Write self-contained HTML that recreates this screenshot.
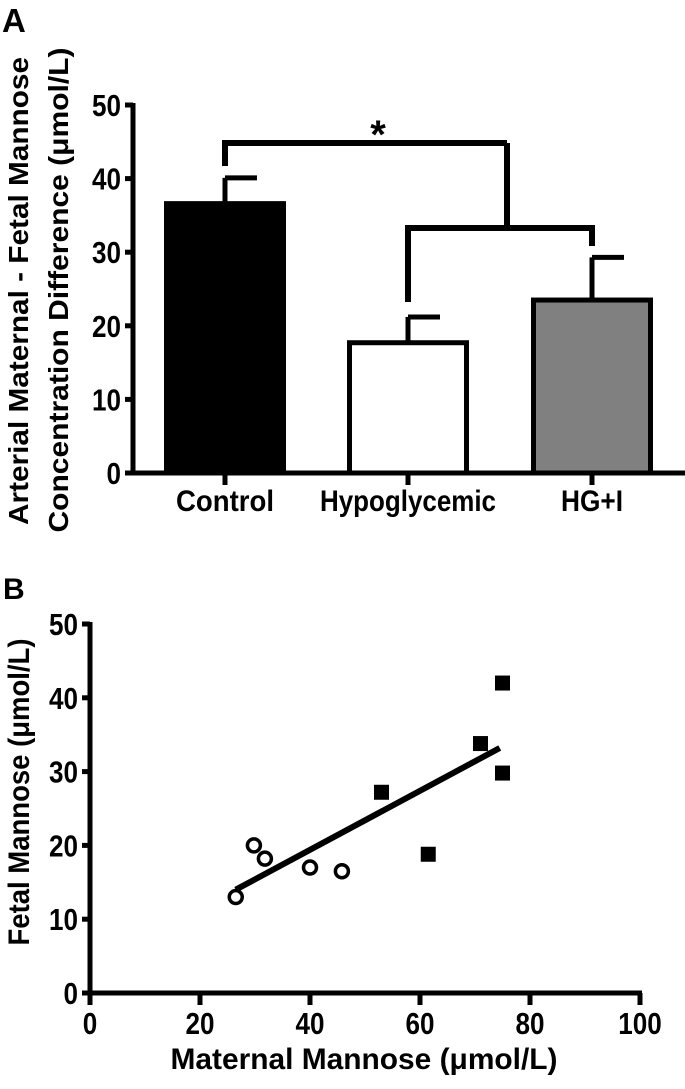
<!DOCTYPE html>
<html><head><meta charset="utf-8">
<style>
html,body{margin:0;padding:0;background:#fff;}
svg{display:block;font-family:"Liberation Sans",sans-serif;font-weight:bold;}
</style></head>
<body>
<svg id="fig" width="685" height="1089" viewBox="0 0 685 1089">
<text x="2" y="32" font-size="33">A</text>
<text x="3" y="599" font-size="30">B</text>
<g id="chartA"></g>
<g id="chartB"></g>
</svg>
<script>
const categories = ["Control","Hypoglycemic","HG+I"];
const barValues = [36.6, 17.7, 23.5];
const barErrors = [3.5, 3.5, 5.8];
const barFills = ["#000","#fff","#808080"];
const yTicksA = [0,10,20,30,40,50];

const circleX = [26.5, 29.8, 31.8, 40, 45.8];
const circleY = [13, 20, 18.2, 17, 16.5];
const squareX = [53, 61.5, 71, 75, 75];
const squareY = [27.2, 18.8, 33.8, 42, 29.8];
const fitX = [26.5, 74.5];
const fitY = [14, 33.2];
const xTicksB = [0,20,40,60,80,100];
const yTicksB = [0,10,20,30,40,50];

const NS = "http://www.w3.org/2000/svg";
function mk(tag, attrs, parent, txt){
  const e = document.createElementNS(NS, tag);
  for (const k in attrs) e.setAttribute(k, attrs[k]);
  if (txt !== undefined) e.textContent = txt;
  parent.appendChild(e);
  return e;
}
function numW(s){ return s.length * 14.5; }

// ---- Panel A ----
const A = document.getElementById('chartA');
const ax0 = 133, yA = v => 473 - v * 7.36;
const catX = [225, 408, 592];
const catW = [98, 176, 62];
const barW = 122;
let e;
e = mk('line',{x1:ax0,y1:yA(50)-2,x2:ax0,y2:yA(0)+2,stroke:'#000','stroke-width':5},A);


e = mk('line',{x1:ax0-8,y1:yA(0),x2:685,y2:yA(0),stroke:'#000','stroke-width':5},A);


yTicksA.forEach(t=>{
  mk('line',{x1:ax0-8,y1:yA(t),x2:ax0,y2:yA(t),stroke:'#000','stroke-width':5},A);
  const s = String(t);
  e = mk('text',{x:ax0-12,y:yA(t)+11,'text-anchor':'end','font-size':31,textLength:numW(s),lengthAdjust:'spacingAndGlyphs'},A,s);
  
  
});
categories.forEach((c,i)=>{
  const cx = catX[i];
  const top = yA(barValues[i]);
  const et = yA(barValues[i]+barErrors[i]);
  e = mk('line',{x1:cx,y1:et,x2:cx,y2:top,stroke:'#000','stroke-width':5},A);
  
  
  mk('line',{x1:cx,y1:et,x2:cx+32,y2:et,stroke:'#000','stroke-width':5},A);
  e = mk('rect',{x:cx-barW/2+2.5,y:top,width:barW-5,height:yA(0)-top,fill:barFills[i],stroke:'#000','stroke-width':5},A);
  
  
  mk('line',{x1:cx,y1:yA(0),x2:cx,y2:yA(0)+12,stroke:'#000','stroke-width':5},A);
  e = mk('text',{x:cx,y:511,'text-anchor':'middle','font-size':30,textLength:catW[i],lengthAdjust:'spacingAndGlyphs'},A,c);
  
  
});
e = mk('path',{d:`M225 166 V143 H507 M507 143 V228 M408 302 V228 H592 V246`,fill:'none',stroke:'#000','stroke-width':6},A);


e = mk('text',{x:378,y:148,'text-anchor':'middle','font-size':40},A,'*');


e = mk('text',{x:0,y:0,'text-anchor':'middle','font-size':28,textLength:468,lengthAdjust:'spacingAndGlyphs',transform:'translate(28,291) rotate(-90)'},A,'Arterial Maternal - Fetal Mannose');


e = mk('text',{x:0,y:0,'text-anchor':'middle','font-size':28,textLength:485,lengthAdjust:'spacingAndGlyphs',transform:'translate(68,290) rotate(-90)'},A,'Concentration Difference (μmol/L)');



// ---- Panel B ----
const B = document.getElementById('chartB');
const bx = v => 90 + v * 5.5, by = v => 993 - v * 7.38;
e = mk('line',{x1:bx(0),y1:by(50)-2,x2:bx(0),y2:by(0),stroke:'#000','stroke-width':5},B);


e = mk('line',{x1:bx(0)-8,y1:by(0),x2:bx(100)+2,y2:by(0),stroke:'#000','stroke-width':5},B);


yTicksB.forEach(t=>{
  mk('line',{x1:bx(0)-8,y1:by(t),x2:bx(0),y2:by(t),stroke:'#000','stroke-width':5},B);
  const s = String(t);
  e = mk('text',{x:bx(0)-12,y:by(t)+11,'text-anchor':'end','font-size':31,textLength:numW(s),lengthAdjust:'spacingAndGlyphs'},B,s);
  
  
});
xTicksB.forEach(t=>{
  mk('line',{x1:bx(t),y1:by(0),x2:bx(t),y2:by(0)+12,stroke:'#000','stroke-width':5},B);
  const s = String(t);
  e = mk('text',{x:bx(t),y:1034,'text-anchor':'middle','font-size':31,textLength:numW(s),lengthAdjust:'spacingAndGlyphs'},B,s);
  
  
});
e = mk('line',{x1:bx(fitX[0]),y1:by(fitY[0]),x2:bx(fitX[1]),y2:by(fitY[1]),stroke:'#000','stroke-width':6},B);


circleX.forEach((x,i)=>{
  e = mk('circle',{cx:bx(x),cy:by(circleY[i]),r:6.5,fill:'#fff',stroke:'#000','stroke-width':3.5},B);
  
  
});
squareX.forEach((x,i)=>{
  e = mk('rect',{x:bx(x)-7.5,y:by(squareY[i])-7.5,width:15,height:15,fill:'#000'},B);
  
  
});
e = mk('text',{x:364,y:1069,'text-anchor':'middle','font-size':30,textLength:387,lengthAdjust:'spacingAndGlyphs'},B,'Maternal Mannose (μmol/L)');


e = mk('text',{x:0,y:0,'text-anchor':'middle','font-size':30,textLength:307,lengthAdjust:'spacingAndGlyphs',transform:'translate(29,792) rotate(-90)'},B,'Fetal Mannose (μmol/L)');


</script>
</body></html>
